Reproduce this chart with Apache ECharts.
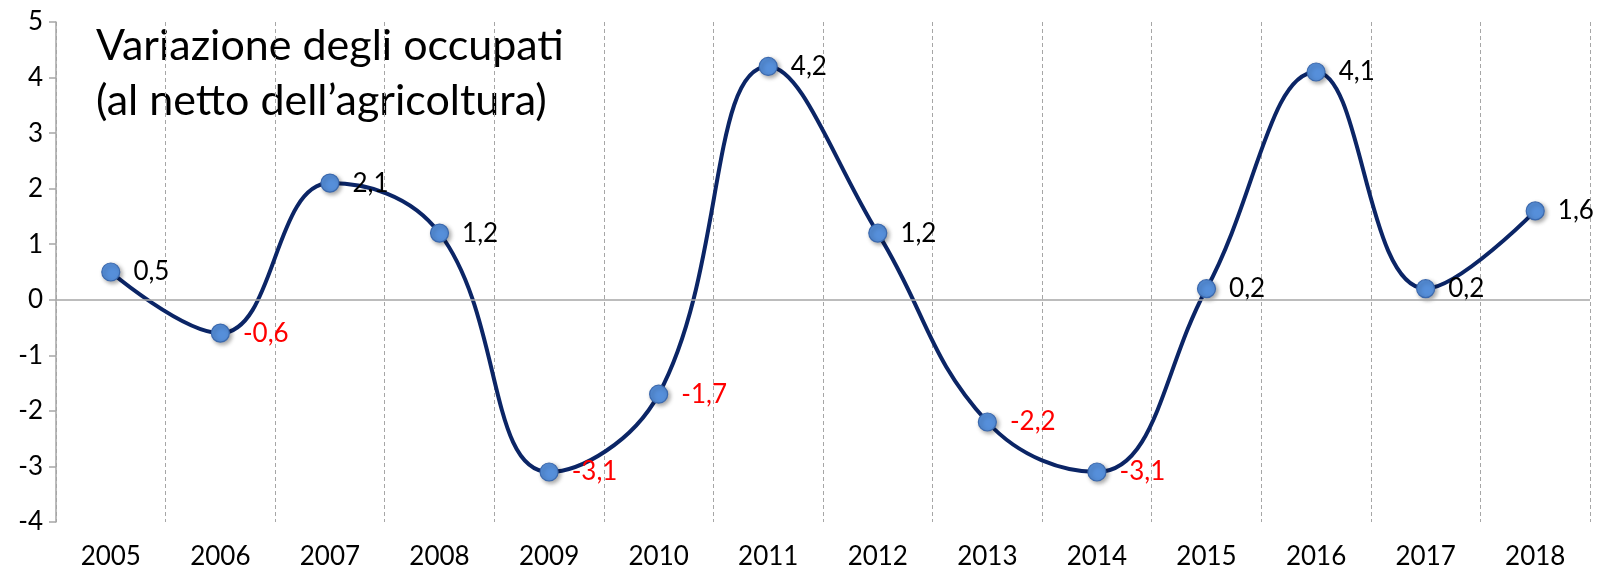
<!DOCTYPE html>
<html>
<head>
<meta charset="utf-8">
<script src="https://cdn.jsdelivr.net/npm/echarts@6/dist/echarts.min.js"></script>
<style>
html,body{margin:0;padding:0;background:#fff;}
#chart{width:1603px;height:579px;}
</style>
</head>
<body>
<div id="chart"></div>
<script>
const years = ['2005','2006','2007','2008','2009','2010','2011','2012','2013','2014','2015','2016','2017','2018'];
const values = [0.5, -0.6, 2.1, 1.2, -3.1, -1.7, 4.2, 1.2, -2.2, -3.1, 0.2, 4.1, 0.2, 1.6];
const yTicks = { min: -4, max: 5, interval: 1 };
const titleLines = ['Variazione degli occupati', '(al netto dell\u2019agricoltura)'];

const FONT = 'Lato, "Open Sans", sans-serif';
const chart = echarts.init(document.getElementById('chart'));
chart.setOption({
  animation: false,
  backgroundColor: '#ffffff',
  grid: { left: 56, right: 13, top: 22, bottom: 57 },
  graphic: [{
    type: 'text',
    left: 96,
    top: 19,
    style: {
      text: titleLines.join('\n'),
      font: '43px ' + FONT,
      lineHeight: 55,
      fill: '#000'
    }
  }],
  xAxis: {
    type: 'category',
    data: years,
    boundaryGap: true,
    axisLine: { show: false },
    axisTick: { show: false },
    axisLabel: { color: '#000', fontSize: 26, fontFamily: FONT, margin: 22 },
    splitLine: { show: true, lineStyle: { color: '#A6A6A6', type: [4, 3], width: 1 } }
  },
  yAxis: {
    type: 'value',
    min: yTicks.min, max: yTicks.max, interval: yTicks.interval,
    axisLine: { show: true, lineStyle: { color: '#A6A6A6', width: 1.5 } },
    axisTick: { show: true, inside: false, length: 7, lineStyle: { color: '#A6A6A6', width: 1.5 } },
    axisLabel: { color: '#000', fontSize: 26, fontFamily: FONT, margin: 13 },
    splitLine: { show: false }
  },
  series: [{
    type: 'line',
    data: values.map(v => ({ value: v, label: { color: v < 0 ? '#FF0000' : '#000000' } })),
    smooth: 0.42,
    symbol: 'circle',
    symbolSize: 18,
    lineStyle: { color: '#0B2566', width: 4 },
    itemStyle: {
      color: '#568FDA', borderColor: '#3B69AE', borderWidth: 1.2,
      shadowBlur: 4, shadowColor: 'rgba(0,0,0,0.35)', shadowOffsetX: 2, shadowOffsetY: 2
    },
    label: {
      show: true, position: 'right', distance: 13,
      fontSize: 26, fontFamily: FONT,
      formatter: p => p.value.toFixed(1).replace('.', ',')
    },
    markLine: {
      silent: true, symbol: 'none', animation: false,
      label: { show: false },
      lineStyle: { color: '#A6A6A6', type: 'solid', width: 1.5 },
      data: [{ yAxis: 0 }]
    },
    z: 3
  }]
});
</script>
</body>
</html>
